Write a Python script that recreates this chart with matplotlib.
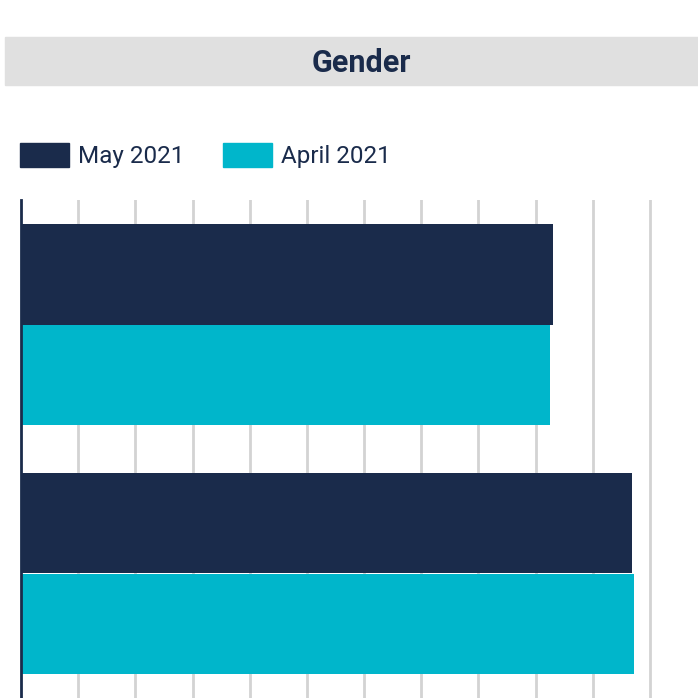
import numpy as np
import matplotlib.pyplot as plt
from matplotlib.patches import Rectangle

# data
categories = ["Male", "Female"]
series = ["May 2021", "April 2021"]
may_2021 = [46.5, 53.4]
april_2021 = [46.3, 53.6]
grid_ticks = [5, 10, 15, 20, 25, 30, 35, 40, 45, 50, 55]

navy = "#1a2b4b"
cyan = "#00b6cb"
W = H = 698

plt.rcParams['font.family'] = ['Roboto', 'DejaVu Sans']
fig = plt.figure(figsize=(W / 100, H / 100), dpi=100)

# title band
fig.patches.append(Rectangle((5 / W, 1 - 85 / H), 1 - 5 / W, 48 / H,
                             transform=fig.transFigure, color="#e0e0e0", zorder=0))
fig.text(361 / W, 1 - 63.5 / H, "Gender", ha="center", va="center",
         fontsize=22, fontweight="bold", color=navy)

# legend drawn by hand
leg_x = [20, 223]
for name, col, x0 in zip(series, [navy, cyan], leg_x):
    fig.patches.append(Rectangle((x0 / W, 1 - 167 / H), 49 / W, 24 / H,
                                 transform=fig.transFigure, color=col))
    fig.text((x0 + 58) / W, 1 - 156.5 / H, name, ha="left", va="center",
             fontsize=17.5, color=navy)

# plot area
ax = fig.add_axes([21 / W, 0, 686 / W, 498 / H])
y = np.arange(len(categories))
h = 0.402
ax.barh(y - h / 2, may_2021, height=h, color=navy, zorder=3)
ax.barh(y + h / 2, april_2021, height=h, color=cyan, zorder=3)
ax.set_ylim(len(categories) - 0.5, -0.5)
ax.set_xlim(0, 60)
ax.set_xticks(grid_ticks)
ax.grid(axis="x", color="#d3d3d3", linewidth=2, zorder=0)
ax.tick_params(left=False, bottom=False, labelleft=False, labelbottom=False)
for s in ["top", "right", "bottom"]:
    ax.spines[s].set_visible(False)
ax.spines["left"].set_color(navy)
ax.spines["left"].set_linewidth(2)
ax.spines["left"].set_zorder(4)

fig.savefig("out.png", dpi=100)
